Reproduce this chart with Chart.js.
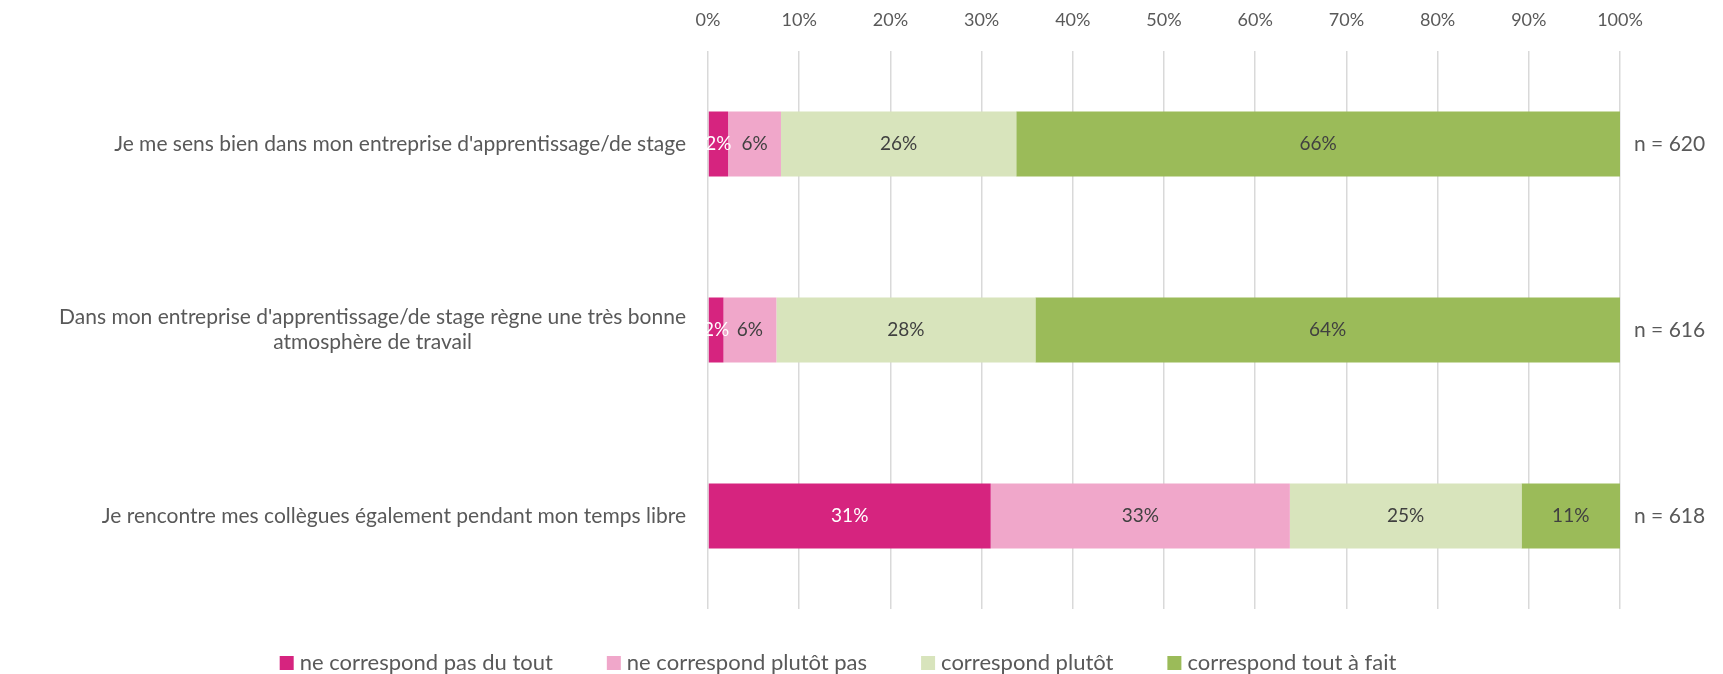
<!DOCTYPE html>
<html>
<head>
<meta charset="utf-8">
<script src="https://cdn.jsdelivr.net/npm/chart.js@4/dist/chart.umd.min.js"></script>
<style>
  html, body { margin: 0; padding: 0; background: #fff; }
  #wrap { width: 1723px; height: 674px; }
</style>
</head>
<body>
<div id="wrap"><canvas id="chart" width="1723" height="674"></canvas></div>
<script>
// chart data
const categories = [
    ["Je me sens bien dans mon entreprise d'apprentissage/de stage"],
    ["Dans mon entreprise d'apprentissage/de stage règne une très bonne", "atmosphère de travail"],
    ["Je rencontre mes collègues également pendant mon temps libre"]
];
const seriesNames = [
    'ne correspond pas du tout',
    'ne correspond plutôt pas',
    'correspond plutôt',
    'correspond tout à fait'
];
const pasDuTout = [2.2, 1.7, 31.0];
const plutotPas = [5.8, 5.8, 32.8];
const plutot = [25.8, 28.4, 25.4];
const toutAFait = [66.2, 64.1, 10.8];
const nLabels = ['n = 620', 'n = 616', 'n = 618'];
const xTicks = [0, 10, 20, 30, 40, 50, 60, 70, 80, 90, 100];

const colors = ['#D6247F', '#F0A7CA', '#D8E4BC', '#9BBB59'];
const labelColors = ['#ffffff', '#404040', '#404040', '#404040'];
const FONT = 'Lato';
const TEXT = '#595959';

// labels inside the bar segments
const barLabels = {
    id: 'barLabels',
    afterDatasetsDraw(chart) {
        const ctx = chart.ctx;
        ctx.save();
        ctx.font = '19px ' + FONT;
        ctx.textAlign = 'center';
        ctx.textBaseline = 'middle';
        chart.data.datasets.forEach((ds, di) => {
            const meta = chart.getDatasetMeta(di);
            meta.data.forEach((bar, i) => {
                const cx = (bar.x + bar.base) / 2;
                ctx.fillStyle = labelColors[di];
                ctx.fillText(Math.round(ds.data[i]) + '%', cx, bar.y);
            });
        });
        ctx.restore();
    }
};

// category labels on the left, n = ... on the right
const sideLabels = {
    id: 'sideLabels',
    afterDraw(chart) {
        const ctx = chart.ctx;
        const y = chart.scales.y;
        const area = chart.chartArea;
        ctx.save();
        ctx.fillStyle = TEXT;
        ctx.textBaseline = 'middle';
        categories.forEach((lines, i) => {
            const cy = y.getPixelForValue(i);
            const lh = 25;
            ctx.font = '21px ' + FONT;
            const maxW = Math.max(...lines.map(l => ctx.measureText(l).width));
            const right = area.left - 22;
            ctx.textAlign = 'center';
            lines.forEach((l, k) => {
                ctx.fillText(l, right - maxW / 2, cy + (k - (lines.length - 1) / 2) * lh);
            });
            ctx.textAlign = 'left';
            ctx.fillText(nLabels[i], area.right + 14, cy);
        });
        ctx.restore();
    }
};

// legend drawn at the bottom
const bottomLegend = {
    id: 'bottomLegend',
    afterDraw(chart) {
        const ctx = chart.ctx;
        ctx.save();
        ctx.font = '22px ' + FONT;
        ctx.textBaseline = 'middle';
        ctx.textAlign = 'left';
        const box = 14, gapText = 6, gapItem = 54;
        const widths = seriesNames.map(s => box + gapText + ctx.measureText(s).width);
        const total = widths.reduce((a, b) => a + b, 0) + gapItem * (widths.length - 1);
        let x = 838 - total / 2;
        const cy = 663;
        seriesNames.forEach((s, i) => {
            ctx.fillStyle = colors[i];
            ctx.fillRect(x, cy - box / 2, box, box);
            ctx.fillStyle = TEXT;
            ctx.fillText(s, x + box + gapText, cy);
            x += widths[i] + gapItem;
        });
        ctx.restore();
    }
};

const seriesData = [pasDuTout, plutotPas, plutot, toutAFait];

new Chart(document.getElementById('chart'), {
    type: 'bar',
    data: {
        labels: categories.map(c => c.join(' ')),
        datasets: seriesData.map((d, i) => ({
            label: seriesNames[i],
            data: d,
            backgroundColor: colors[i],
            borderWidth: 0,
            barPercentage: 0.35,
            categoryPercentage: 1.0
        }))
    },
    options: {
        indexAxis: 'y',
        responsive: false,
        animation: false,
        layout: {
            padding: { left: 708, right: 103, top: 9, bottom: 65 }
        },
        plugins: {
            legend: { display: false },
            tooltip: { enabled: false }
        },
        scales: {
            x: {
                position: 'top',
                stacked: true,
                min: 0,
                max: 100,
                afterBuildTicks: (axis) => {
                    axis.ticks = xTicks.map(v => ({ value: v }));
                },
                afterFit: (axis) => { axis.height = 42; },
                ticks: {
                    callback: v => v + '%',
                    color: TEXT,
                    font: { family: FONT, size: 18 },
                    padding: 20,
                    maxRotation: 0
                },
                grid: {
                    color: '#D9D9D9',
                    lineWidth: 1.5,
                    drawTicks: false
                },
                border: { display: false }
            },
            y: {
                stacked: true,
                afterFit: (axis) => { axis.width = 0; },
                ticks: { display: false },
                grid: { display: false },
                border: { display: false }
            }
        }
    },
    plugins: [barLabels, sideLabels, bottomLegend]
});
</script>
</body>
</html>
